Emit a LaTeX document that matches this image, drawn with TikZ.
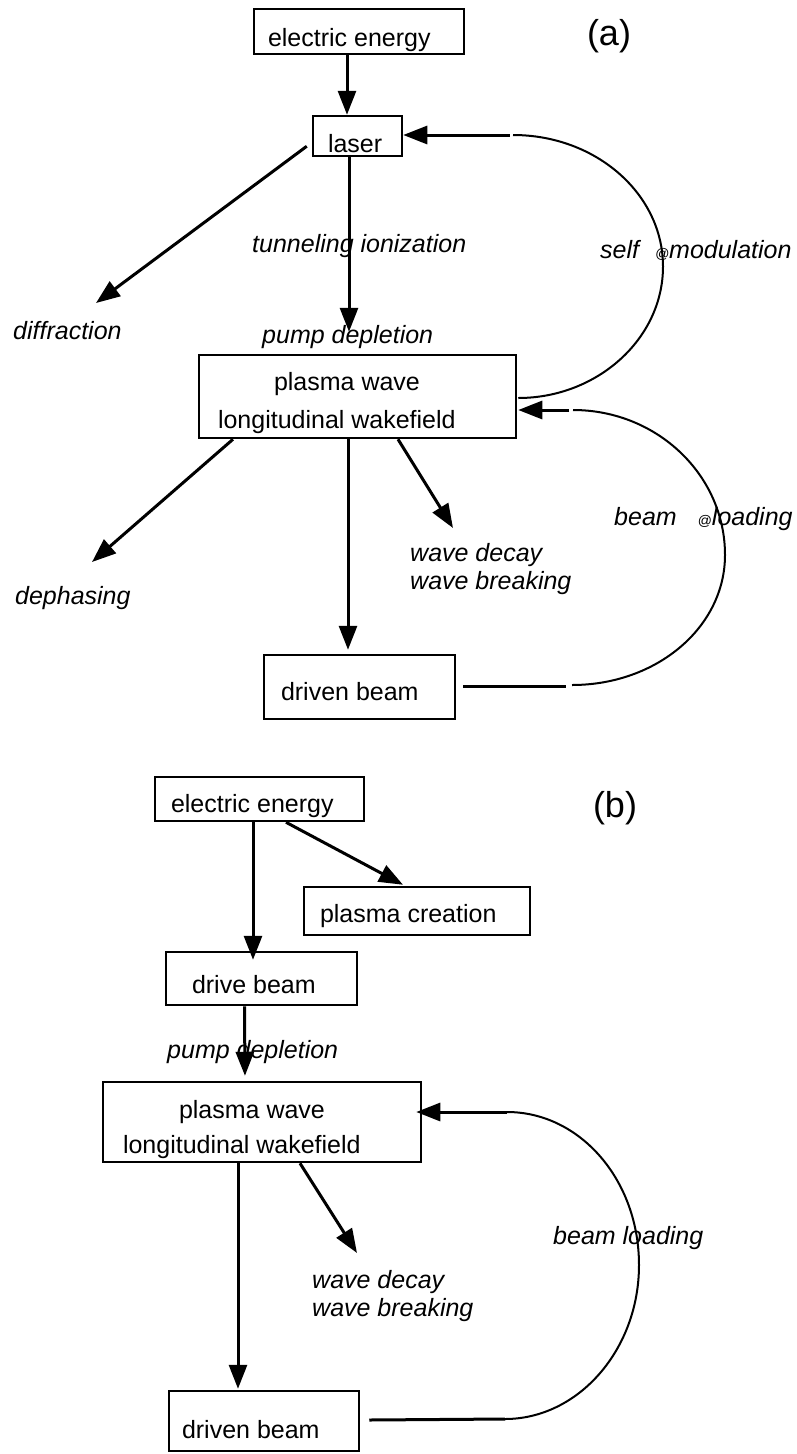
\documentclass[tikz,border=0pt]{standalone}
\usepackage{fontspec}
\setmainfont{Liberation Sans}
\usetikzlibrary{arrows.meta}
\newcommand\bt[3]{\makebox[0pt][l]{\hspace*{#1pt}\raisebox{-#2pt}[0pt][0pt]{#3}}}
\newcommand\smallat{{\fontsize{14}{14}\selectfont @}}
\begin{document}
\begin{tikzpicture}[x=1pt,y=-1pt,
  every node/.style={font=\fontsize{25}{28}\selectfont},
  box/.style={draw, line width=2.5pt, inner sep=0pt},
  lbl/.style={inner sep=0pt, anchor=base west, font=\fontsize{25}{28}\selectfont\itshape},
  tag/.style={inner sep=0pt, font=\fontsize{36}{40}\selectfont},
  arr/.style={line width=3pt, -{Triangle[length=24pt,width=18pt]}},
  bar/.style={line width=3pt},
  loopline/.style={line width=2pt},
]
\useasboundingbox (0,0) rectangle (797,1454);

% ---------- (a) ----------
\node[box, minimum width=210pt, minimum height=45pt] (eea) at (359,31.5) {\bt{-91}{14.5}{electric energy}};
\node[box, minimum width=89pt, minimum height=40pt] (laser) at (357.5,136) {\bt{-29.5}{16}{laser}};
\node[box, minimum width=317pt, minimum height=83pt] (pa) at (357.5,396.5) {\bt{-83.5}{-6.5}{plasma wave}\bt{-139.5}{31.5}{longitudinal wakefield}};
\node[box, minimum width=191pt, minimum height=64pt] (da) at (359.5,687) {\bt{-78.5}{13}{driven beam}};

\node[tag] (A) at (609,36) {(a)};
\node[lbl] (ti) at (252,252) {tunneling ionization};
\node[lbl] (sm) at (600,258) {self~~\hspace*{2pt}\smallat modulation};
\node[lbl] (diff) at (13,339) {diffraction};
\node[lbl] (pda) at (262,343) {pump depletion};
\node[lbl] (deph) at (15,604) {dephasing};
\node[lbl, anchor=west, align=left] (wda) at (410,568.7) {wave decay\\wave breaking};
\node[lbl] (bla) at (614,525) {beam\hspace*{21pt}\smallat loading};

\coordinate (smtop) at (513,135);
\coordinate (smR) at (663,266.5);
\coordinate (blaTop) at (569,410);
\coordinate (blaR) at (725,555);
\coordinate (blaBot) at (572,685);
\coordinate (blaEnd) at (566,686);
\coordinate (tipDiff) at (96,303);
\coordinate (tipDeph) at (92,562);
\coordinate (tipWDa) at (453,528);

\draw[arr] ([shift={(-12,0)}]eea.south) -- ([shift={(-10.5,0)}]laser.north);
\draw[arr] ([shift={(-5,-11)}]laser.south west) -- (tipDiff);
\draw[arr, shorten >=22pt] ([shift={(-8.5,0)}]laser.south) -- ([shift={(-8.5,0)}]pa.north);
\draw[loopline] ([shift={(1,1.5)}]pa.east) .. controls (597,398) and (663,339) .. (smR)
   .. controls (663,194) and (596,135) .. (smtop);
\draw[arr] ([shift={(-3,0)}]smtop) -- ([shift={(0,-1)}]laser.east);
\draw[arr] (blaTop) -- ([shift={(1,13.5)}]pa.east);
\draw[loopline] ([shift={(4,0)}]blaTop) .. controls (657,410) and (725,475) .. (blaR)
   .. controls (725,627) and (657,685) .. (blaBot);
\draw[bar] ([shift={(7,-1)}]da.east) -- (blaEnd);
\draw[arr] ([shift={(-124.5,0)}]pa.south) -- (tipDeph);
\draw[arr] ([shift={(40.5,0)}]pa.south) -- (tipWDa);
\draw[arr, shorten >=4pt] ([shift={(-9.5,0)}]pa.south) -- ([shift={(-11.5,0)}]da.north);

% ---------- (b) ----------
\node[box, minimum width=209pt, minimum height=44pt] (eeb) at (259.5,799) {\bt{-88.5}{13}{electric energy}};
\node[box, minimum width=226pt, minimum height=48pt] (pc) at (417,911) {\bt{-97}{11}{plasma creation}};
\node[box, minimum width=191pt, minimum height=53pt] (db) at (261.5,978.5) {\bt{-69.5}{14.5}{drive beam}};
\node[box, minimum width=318pt, minimum height=80pt] (pb) at (262,1122) {\bt{-83}{-4}{plasma wave}\bt{-139}{31}{longitudinal wakefield}};
\node[box, minimum width=190pt, minimum height=60pt] (dbn) at (264,1421) {\bt{-82}{17}{driven beam}};

\node[tag] (B) at (615,808) {(b)};
\node[lbl] (pdb) at (167,1058) {pump depletion};
\node[lbl, anchor=west, align=left] (wdb) at (312,1295.7) {wave decay\\wave breaking};
\node[lbl] (blb) at (553,1244) {beam loading};

\coordinate (blbTop) at (507,1112);
\coordinate (blbR) at (639,1265);
\coordinate (blbBot) at (505,1419);
\coordinate (tipWDb) at (357,1253);

\draw[arr, shorten >=-9pt] ([shift={(-6.5,0)}]eeb.south) -- ([shift={(-8.5,0)}]db.north);
\draw[arr] ([shift={(26.5,0)}]eeb.south) -- ([shift={(-14,-1)}]pc.north);
\draw[arr, shorten >=5pt] ([shift={(-17,0)}]db.south) -- ([shift={(-17,0)}]pb.north);
\draw[arr] ([shift={(38,0)}]pb.south) -- (tipWDb);
\draw[arr, shorten >=1pt] ([shift={(-24,0)}]pb.south) -- ([shift={(-26,0)}]dbn.north);
\draw[arr] (blbTop) -- ([shift={(-6,-10)}]pb.east);
\draw[loopline] (blbTop) .. controls (580,1112) and (639,1180) .. (blbR)
   .. controls (639,1350) and (578,1419) .. (blbBot);
\draw[bar] ([shift={(9,-1)}]dbn.east) -- (blbBot);
\end{tikzpicture}
\end{document}
